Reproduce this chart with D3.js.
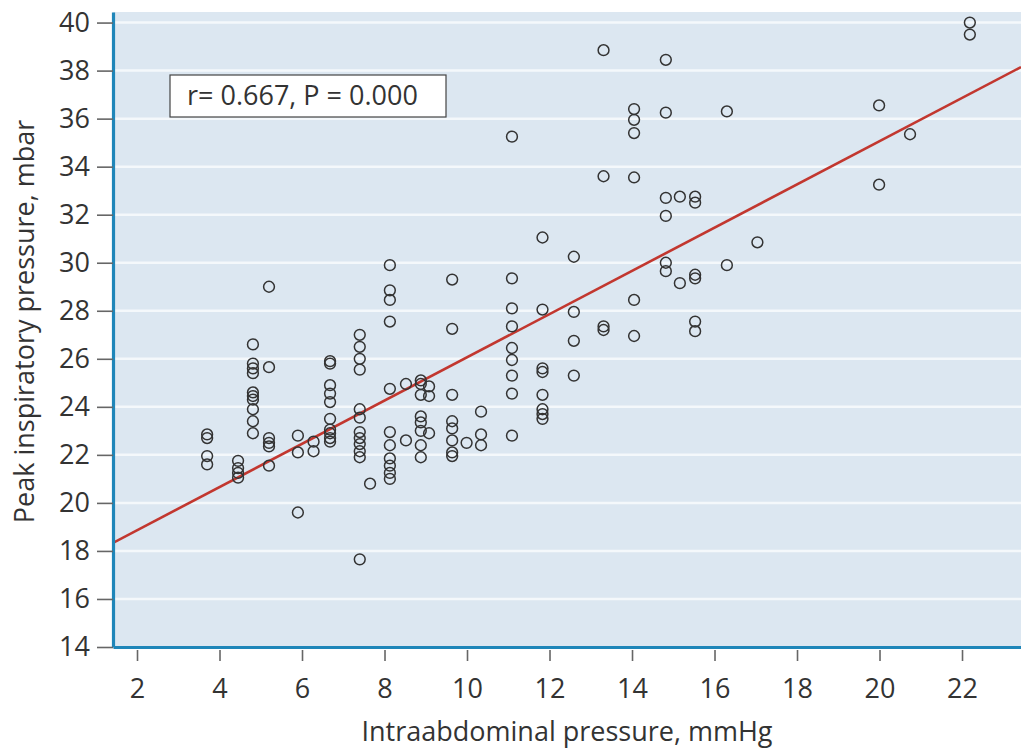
<!DOCTYPE html>
<html lang="en">
<head>
<meta charset="utf-8">
<title>Peak inspiratory pressure vs intraabdominal pressure</title>
<script src="https://d3js.org/d3.v7.min.js"></script>
<style>
  body { margin: 0; background: #fff; }
  text { font-family: "Open Sans", sans-serif; fill: #333; }
</style>
</head>
<body>
<svg id="chart" width="1021" height="753"></svg>
<script>
// intraabdominal pressure levels (mmHg), one per column of points
var iapLevels = [3.70, 4.45, 4.81, 5.20, 5.90, 6.28, 6.68, 7.40, 7.65, 8.13,
                 8.52, 8.88, 9.08, 9.64, 9.99, 10.34, 11.09, 11.83, 12.59, 13.31,
                 14.05, 14.82, 15.16, 15.53, 16.30, 17.04, 19.99, 20.74, 22.19];

// peak inspiratory pressure (mbar) measured at each level above
var pipByLevel = [
  [22.85, 22.7, 21.95, 21.6],
  [21.75, 21.45, 21.25, 21.05],
  [26.6, 25.8, 25.6, 25.4, 24.6, 24.45, 24.3, 23.9, 23.4, 22.9],
  [29.0, 25.65, 22.7, 22.5, 22.35, 21.55],
  [22.8, 22.1, 19.6],
  [22.55, 22.15],
  [25.9, 25.8, 24.9, 24.55, 24.2, 23.5, 23.05, 22.9, 22.7, 22.55],
  [27.0, 26.5, 26.0, 25.55, 23.9, 23.55, 22.95, 22.7, 22.45, 22.15, 21.9, 17.65],
  [20.8],
  [29.9, 28.85, 28.45, 27.55, 24.75, 22.95, 22.4, 21.85, 21.55, 21.25, 21.0],
  [24.95, 22.6],
  [25.1, 24.95, 24.5, 23.6, 23.35, 23.0, 22.4, 21.9],
  [24.85, 24.45, 22.9],
  [29.3, 27.25, 24.5, 23.4, 23.1, 22.6, 22.1, 21.95],
  [22.5],
  [23.8, 22.85, 22.4],
  [35.25, 29.35, 28.1, 27.35, 26.45, 25.95, 25.3, 24.55, 22.8],
  [31.05, 28.05, 25.6, 25.45, 24.5, 23.9, 23.7, 23.5],
  [30.25, 27.95, 26.75, 25.3],
  [38.85, 33.6, 27.35, 27.2],
  [36.4, 35.95, 35.4, 33.55, 28.45, 26.95],
  [38.45, 36.25, 32.7, 31.95, 30.0, 29.65],
  [32.75, 29.15],
  [32.75, 32.5, 29.5, 29.35, 27.55, 27.15],
  [36.3, 29.9],
  [30.85],
  [36.55, 33.25],
  [35.35],
  [40.0, 39.5]
];

// regression line: pip = intercept + slope * iap
var fitIntercept = 17.06;
var fitSlope = 0.90;
var statsLabel = "r= 0.667, P = 0.000";

var xTicks = [2, 4, 6, 8, 10, 12, 14, 16, 18, 20, 22];
var yTicks = [14, 16, 18, 20, 22, 24, 26, 28, 30, 32, 34, 36, 38, 40];
var xTitle = "Intraabdominal pressure, mmHg";
var yTitle = "Peak inspiratory pressure, mbar";

var points = [];
iapLevels.forEach(function(x, i) {
  pipByLevel[i].forEach(function(y) { points.push({ x: x, y: y }); });
});

var plotLeft = 113, plotRight = 1021, plotTop = 12, plotBottom = 647;
var xScale = d3.scaleLinear().domain([1.418, 23.43]).range([plotLeft, plotRight]);
var yScale = d3.scaleLinear().domain([14, 40.44]).range([plotBottom, plotTop]);

var svg = d3.select("#chart");

// plot background
svg.append("rect")
  .attr("x", plotLeft).attr("y", plotTop)
  .attr("width", plotRight - plotLeft).attr("height", plotBottom - plotTop)
  .attr("fill", "#dce7f1");

// white horizontal grid lines
svg.append("g")
  .selectAll("line")
  .data(yTicks.filter(function(d) { return d > 14; }))
  .join("line")
  .attr("x1", plotLeft).attr("x2", plotRight)
  .attr("y1", function(d) { return yScale(d); })
  .attr("y2", function(d) { return yScale(d); })
  .attr("stroke", "#f4f8fb")
  .attr("stroke-width", 2.5);

svg.append("clipPath").attr("id", "plotClip")
  .append("rect")
  .attr("x", plotLeft).attr("y", plotTop)
  .attr("width", plotRight - plotLeft).attr("height", plotBottom - plotTop);

// regression line
svg.append("path")
  .datum(xScale.domain())
  .attr("clip-path", "url(#plotClip)")
  .attr("fill", "none")
  .attr("stroke", "#c2372f")
  .attr("stroke-width", 2.6)
  .attr("d", d3.line()
    .x(function(d) { return xScale(d); })
    .y(function(d) { return yScale(fitIntercept + fitSlope * d); }));

// open circles
svg.append("g")
  .selectAll("circle")
  .data(points)
  .join("circle")
  .attr("cx", function(d) { return xScale(d.x); })
  .attr("cy", function(d) { return yScale(d.y); })
  .attr("r", 5.4)
  .attr("fill", "none")
  .attr("stroke", "#333")
  .attr("stroke-width", 1.5);

// axes
var yAxis = svg.append("g")
  .attr("transform", "translate(" + plotLeft + ",0)")
  .call(d3.axisLeft(yScale).tickValues(yTicks).tickSize(16).tickSizeOuter(0).tickPadding(7));
var xAxis = svg.append("g")
  .attr("transform", "translate(0," + plotBottom + ")")
  .call(d3.axisBottom(xScale).tickValues(xTicks).tickSize(14).tickSizeOuter(0).tickPadding(18));

[yAxis, xAxis].forEach(function(ax) {
  ax.select(".domain").attr("stroke", "#1f86b9").attr("stroke-width", 3.2);
  ax.selectAll(".tick line").attr("stroke", "#666").attr("stroke-width", 1.6);
  ax.selectAll(".tick text")
    .attr("font-family", "'Open Sans', sans-serif")
    .attr("font-size", "27px")
    .attr("fill", "#333");
});
// ticks sit outside the plot only
xAxis.selectAll(".tick line").attr("y1", 3);

// axis titles
svg.append("text")
  .attr("x", (plotLeft + plotRight) / 2)
  .attr("y", 741)
  .attr("text-anchor", "middle")
  .attr("font-size", "27px")
  .text(xTitle);
svg.append("text")
  .attr("transform", "rotate(-90)")
  .attr("x", -(plotTop + plotBottom) / 2 + 8)
  .attr("y", 34)
  .attr("text-anchor", "middle")
  .attr("font-size", "27px")
  .text(yTitle);

// stats box
var box = svg.append("g");
box.append("rect")
  .attr("x", 170).attr("y", 75)
  .attr("width", 276).attr("height", 42)
  .attr("fill", "#fff")
  .attr("stroke", "#444")
  .attr("stroke-width", 1.2);
box.append("text")
  .attr("x", 187).attr("y", 105)
  .attr("font-size", "27px")
  .text(statsLabel);
</script>
</body>
</html>
